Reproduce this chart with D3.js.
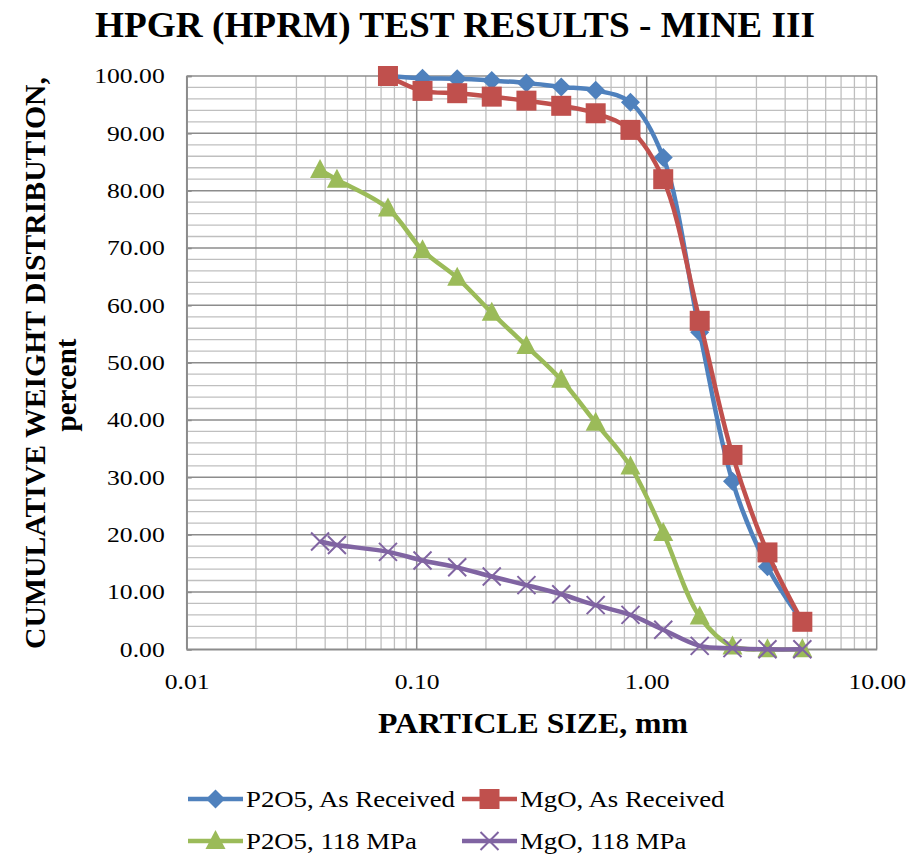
<!DOCTYPE html>
<html>
<head>
<meta charset="utf-8">
<script src="https://cdn.jsdelivr.net/npm/d3@7"></script>
<style>
  body { margin: 0; background: #fff; }
  svg { display: block; font-family: "Liberation Serif", "Times New Roman", serif; }
</style>
</head>
<body>
<svg></svg>
<script>
var width = 909;
var height = 857;

// sieve sizes, mm
var sizes = [0.038, 0.045, 0.075, 0.106, 0.15, 0.212, 0.30, 0.425, 0.60, 0.85, 1.18, 1.70, 2.36, 3.35, 4.75];

// cumulative % passing (null = no point)
var p2o5Received = [null, null, 100, 99.6, 99.5, 99.2, 98.8, 98.1, 97.5, 95.4, 85.8, 55.3, 29.3, 14.4, 4.8];
var mgoReceived  = [null, null, 100, 97.4, 97.0, 96.4, 95.7, 94.8, 93.5, 90.6, 82.0, 57.3, 33.9, 16.9, 4.8];
var p2o5Mpa      = [83.6, 81.9, 76.9, 69.6, 64.8, 58.7, 52.9, 47.0, 39.5, 31.9, 20.3, 5.7, 0.5, 0, 0];
var mgoMpa       = [18.8, 18.2, 17.0, 15.5, 14.3, 12.7, 11.2, 9.6, 7.7, 6.0, 3.4, 0.6, 0.2, 0, 0];

var seriesNames = ['P2O5, As Received', 'MgO, As Received', 'P2O5, 118 MPa', 'MgO, 118 MPa'];
var seriesColors = ['#4F81BD', '#C0504D', '#9BBB59', '#8064A2'];
var seriesMarkers = ['diamond', 'square', 'triangle', 'cross'];

var xTicks = [0.01, 0.1, 1, 10];
var yTicks = [0, 10, 20, 30, 40, 50, 60, 70, 80, 90, 100];

var svg = d3.select('svg')
    .attr('width', width)
    .attr('height', height);

var x = d3.scaleLog().domain([0.01, 10]).range([186.7, 876.7]);
var y = d3.scaleLinear().domain([0, 100]).range([649.3, 76]);

// stretch text horizontally like the original export
function stretch(sel, k) {
    sel.each(function () {
        var w = this.getComputedTextLength();
        d3.select(this).attr('textLength', w * k).attr('lengthAdjust', 'spacingAndGlyphs');
    });
}

// grid
var minorX = [];
[0.01, 0.1, 1].forEach(function (dec) {
    for (var k = 2; k <= 9; k++) minorX.push(dec * k);
});
var minorY = d3.range(0, 101, 2).filter(function (v) { return v % 10 !== 0; });

var grid = svg.append('g');
grid.selectAll('.mx').data(minorX).enter().append('line')
    .attr('x1', function (d) { return x(d); })
    .attr('x2', function (d) { return x(d); })
    .attr('y1', y(0)).attr('y2', y(100))
    .attr('stroke', '#bfbfbf').attr('stroke-width', 1.3);
grid.selectAll('.my').data(minorY).enter().append('line')
    .attr('x1', x(0.01)).attr('x2', x(10))
    .attr('y1', function (d) { return y(d); })
    .attr('y2', function (d) { return y(d); })
    .attr('stroke', '#bfbfbf').attr('stroke-width', 1.3);
grid.selectAll('.Mx').data(xTicks).enter().append('line')
    .attr('x1', function (d) { return x(d); })
    .attr('x2', function (d) { return x(d); })
    .attr('y1', y(0)).attr('y2', y(100))
    .attr('stroke', '#8c8c8c').attr('stroke-width', 1.5);
grid.selectAll('.My').data(yTicks).enter().append('line')
    .attr('x1', x(0.01)).attr('x2', x(10))
    .attr('y1', function (d) { return y(d); })
    .attr('y2', function (d) { return y(d); })
    .attr('stroke', '#8c8c8c').attr('stroke-width', 1.5);

// axes
var yAxis = d3.axisLeft(y).tickValues(yTicks).tickSize(-5).tickPadding(22)
    .tickFormat(d3.format('.2f'));
svg.append('g')
    .attr('transform', 'translate(' + x(0.01) + ',0)')
    .call(yAxis)
    .call(function (g) {
        g.select('.domain').attr('stroke', '#8c8c8c').attr('stroke-width', 1.5);
        g.selectAll('.tick line').attr('stroke', '#8c8c8c').attr('stroke-width', 1.5);
        g.selectAll('text').attr('font-size', 21).attr('font-family', 'Liberation Serif').attr('fill', '#000')
            .call(stretch, 1.22);
    });

var xAxis = d3.axisBottom(x).tickValues(xTicks).tickSize(0).tickPadding(25)
    .tickFormat(d3.format('.2f'));
svg.append('g')
    .attr('transform', 'translate(0,' + y(0) + ')')
    .call(xAxis)
    .call(function (g) {
        g.select('.domain').attr('stroke', '#8c8c8c').attr('stroke-width', 1.5);
        g.selectAll('text').attr('font-size', 21).attr('font-family', 'Liberation Serif').attr('fill', '#000')
            .call(stretch, 1.22);
    });

// series
var allSeries = [p2o5Received, mgoReceived, p2o5Mpa, mgoMpa];

var line = d3.line()
    .x(function (d) { return x(d[0]); })
    .y(function (d) { return y(d[1]); })
    .curve(d3.curveCatmullRom.alpha(0.5));

function marker(g, type, color, cx, cy) {
    if (type === 'diamond') {
        g.append('path').attr('d', 'M0,-9.5L9.5,0L0,9.5L-9.5,0Z')
            .attr('transform', 'translate(' + cx + ',' + cy + ')')
            .attr('fill', color);
    } else if (type === 'square') {
        g.append('rect').attr('x', cx - 10).attr('y', cy - 10)
            .attr('width', 20).attr('height', 20).attr('fill', color);
    } else if (type === 'triangle') {
        g.append('path').attr('d', 'M0,-11L10,8L-10,8Z')
            .attr('transform', 'translate(' + cx + ',' + cy + ')')
            .attr('fill', color);
    } else {
        g.append('path').attr('d', 'M-9,-9L9,9M-9,9L9,-9')
            .attr('transform', 'translate(' + cx + ',' + cy + ')')
            .attr('stroke', color).attr('stroke-width', 2).attr('fill', 'none');
    }
}

allSeries.forEach(function (vals, i) {
    var pts = sizes.map(function (s, j) { return [s, vals[j]]; })
        .filter(function (p) { return p[1] !== null; });
    var g = svg.append('g');
    g.append('path')
        .datum(pts)
        .attr('d', line)
        .attr('fill', 'none')
        .attr('stroke', seriesColors[i])
        .attr('stroke-width', 4.5)
        .attr('stroke-linejoin', 'round');
    pts.forEach(function (p) {
        marker(g, seriesMarkers[i], seriesColors[i], x(p[0]), y(p[1]));
    });
});

// titles
svg.append('text')
    .attr('x', 455).attr('y', 37)
    .attr('text-anchor', 'middle')
    .attr('font-size', 35).attr('font-weight', 'bold')
    .attr('textLength', 720).attr('lengthAdjust', 'spacingAndGlyphs')
    .text('HPGR (HPRM) TEST RESULTS - MINE III');

svg.append('text')
    .attr('x', 533).attr('y', 733)
    .attr('text-anchor', 'middle')
    .attr('font-size', 30).attr('font-weight', 'bold')
    .attr('textLength', 310).attr('lengthAdjust', 'spacingAndGlyphs')
    .text('PARTICLE SIZE, mm');

svg.append('text')
    .attr('transform', 'translate(45,363) rotate(-90)')
    .attr('text-anchor', 'middle')
    .attr('font-size', 29).attr('font-weight', 'bold')
    .attr('textLength', 572).attr('lengthAdjust', 'spacingAndGlyphs')
    .text('CUMULATIVE WEIGHT DISTRIBUTION,');

svg.append('text')
    .attr('transform', 'translate(76,385) rotate(-90)')
    .attr('text-anchor', 'middle')
    .attr('font-size', 29).attr('font-weight', 'bold')
    .text('percent');

// legend
var legendPos = [[188, 799], [462, 799], [188, 841], [462, 841]];
seriesNames.forEach(function (name, i) {
    var lx = legendPos[i][0], ly = legendPos[i][1];
    var g = svg.append('g');
    g.append('line')
        .attr('x1', lx).attr('x2', lx + 55)
        .attr('y1', ly).attr('y2', ly)
        .attr('stroke', seriesColors[i]).attr('stroke-width', 4.5);
    marker(g, seriesMarkers[i], seriesColors[i], lx + 27.5, ly);
    g.append('text')
        .attr('x', lx + 58).attr('y', ly + 8)
        .attr('font-size', 22.5)
        .text(name)
        .call(stretch, 1.19);
});
</script>
</body>
</html>
